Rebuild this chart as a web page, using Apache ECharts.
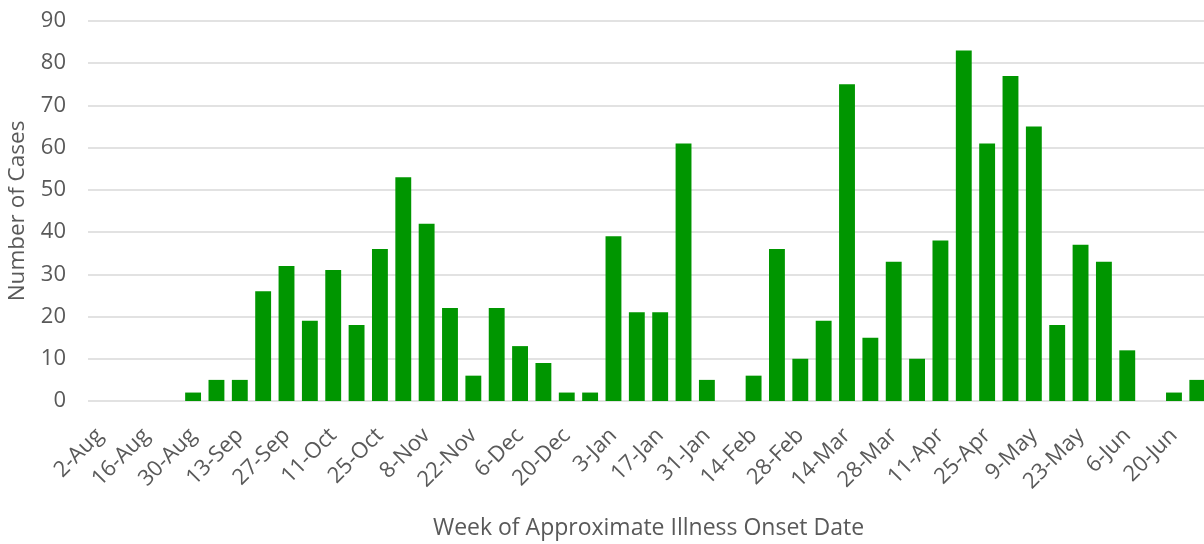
<!DOCTYPE html>
<html>
<head>
<meta charset="utf-8">
<script src="https://cdn.jsdelivr.net/npm/echarts@6/dist/echarts.min.js"></script>
<style>
  html, body { margin: 0; padding: 0; background: #fff; }
  #chart { width: 1204px; height: 544px; }
</style>
</head>
<body>
<div id="chart"></div>
<script>
// weekly onset dates
const weeks = [
  '2-Aug', '9-Aug', '16-Aug', '23-Aug', '30-Aug', '6-Sep', '13-Sep', '20-Sep',
  '27-Sep', '4-Oct', '11-Oct', '18-Oct', '25-Oct', '1-Nov', '8-Nov', '15-Nov',
  '22-Nov', '29-Nov', '6-Dec', '13-Dec', '20-Dec', '27-Dec', '3-Jan', '10-Jan',
  '17-Jan', '24-Jan', '31-Jan', '7-Feb', '14-Feb', '21-Feb', '28-Feb', '7-Mar',
  '14-Mar', '21-Mar', '28-Mar', '4-Apr', '11-Apr', '18-Apr', '25-Apr', '2-May',
  '9-May', '16-May', '23-May', '30-May', '6-Jun', '13-Jun', '20-Jun', '27-Jun'
];
const cases = [
  0, 0, 0, 0, 2, 5, 5, 26,
  32, 19, 31, 18, 36, 53, 42, 22,
  6, 22, 13, 9, 2, 2, 39, 21,
  21, 61, 5, 0, 6, 36, 10, 19,
  75, 15, 33, 10, 38, 83, 61, 77,
  65, 18, 37, 33, 12, 0, 2, 5
];
const yMax = 90;
const yStep = 10;

const txt = '#595959';
const font = '"Open Sans", "Noto Sans", sans-serif';

const chart = echarts.init(document.getElementById('chart'));
chart.setOption({
  backgroundColor: '#fff',
  animation: false,
  grid: {
    left: 88,
    right: -5,
    top: 21,
    bottom: 143,
    containLabel: false,
    outerBoundsMode: 'none'
  },
  xAxis: {
    type: 'category',
    data: weeks,
    name: 'Week of Approximate Illness Onset Date',
    nameLocation: 'middle',
    nameGap: 116,
    nameTextStyle: { color: txt, fontSize: 23, fontFamily: font },
    axisLine: { show: false },
    axisTick: { show: false },
    axisLabel: {
      interval: 1,
      rotate: 45,
      margin: 31,
      color: txt,
      fontSize: 22,
      fontFamily: font
    },
    splitLine: { show: false }
  },
  yAxis: {
    type: 'value',
    min: 0,
    max: yMax,
    interval: yStep,
    name: 'Number of Cases',
    nameLocation: 'middle',
    nameRotate: 90,
    nameGap: 59,
    nameTextStyle: { color: txt, fontSize: 22.5, fontFamily: font },
    axisLine: { show: false },
    axisTick: { show: false },
    axisLabel: { margin: 22, color: txt, fontSize: 22, fontFamily: font },
    splitLine: { lineStyle: { color: '#d9d9d9', width: 1.5 } }
  },
  series: [{
    type: 'bar',
    data: cases,
    barCategoryGap: '32%',
    itemStyle: { color: '#009600' }
  }]
});
</script>
</body>
</html>
